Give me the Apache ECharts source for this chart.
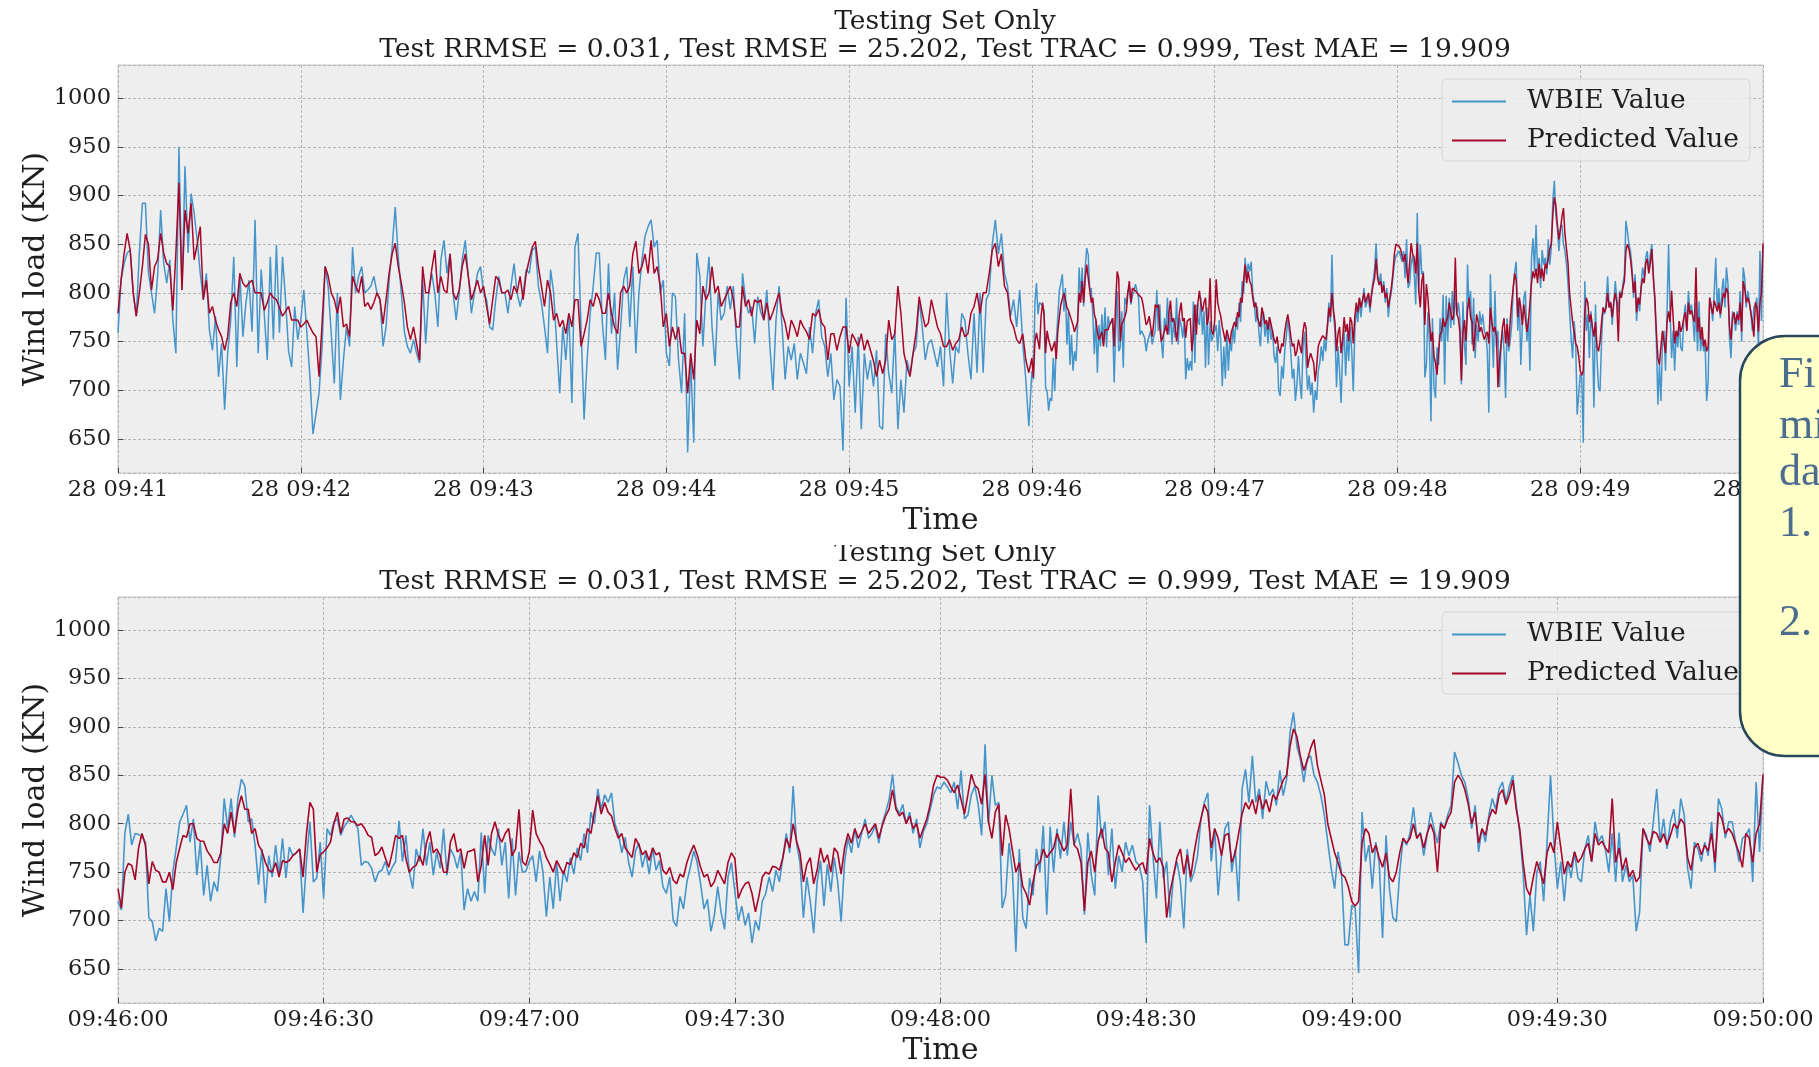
<!DOCTYPE html>
<html>
<head>
<meta charset="utf-8">
<title>Wind load – testing set</title>
<script src="https://cdn.jsdelivr.net/npm/echarts@6.0.0/dist/echarts.min.js"></script>
<style>
  html, body { margin: 0; padding: 0; background: #ffffff; }
  #chart { width: 1819px; height: 1067px; }
</style>
</head>
<body>
<div id="chart"></div>
<script>
// Sampling: 09:41:00–09:45:59 at 1 s, 09:46:00–09:50:00 at 0.5 s (seconds after 09:41:00)
const EARLY_START = 0, EARLY_STEP = 1;
const LATE_START = 300, LATE_STEP = 0.5;

const seriesNames = ['WBIE Value', 'Predicted Value'];

const titleLine1 = 'Testing Set Only';
const titleLine2 = 'Test RRMSE = 0.031, Test RMSE = 25.202, Test TRAC = 0.999, Test MAE = 19.909';

// WBIE wind load (KN), 09:41:00 – 09:45:59
const wbieEarly = [
  759, 813, 830, 841, 844, 800, 776, 840, 892, 892,
  820, 800, 779, 817, 885, 830, 810, 834, 772, 738,
  950, 803, 930, 841, 902, 882, 854, 820, 793, 820,
  762, 741, 776, 714, 748, 680, 738, 772, 837, 724,
  820, 755, 790, 813, 760, 875, 738, 824, 779, 731,
  837, 752, 849, 759, 837, 793, 740, 724, 786, 752,
  772, 803, 759, 714, 655, 676, 697, 745, 827, 806,
  758, 707, 800, 690, 731, 765, 745, 847, 800, 817,
  827, 800, 803, 807, 817, 800, 793, 745, 765, 813,
  847, 888, 837, 800, 760, 745, 738, 752, 738, 728,
  815, 748, 800, 820, 800, 765, 834, 854, 820, 840,
  800, 772, 800, 834, 854, 817, 779, 800, 820, 827,
  800, 793, 765, 762, 793, 817, 800, 800, 779, 807,
  830, 800, 786, 800, 824, 820, 844, 847, 807, 790,
  765, 738, 824, 800, 748, 697, 765, 731, 779, 687,
  847, 861, 765, 670, 731, 779, 807, 841, 841, 769,
  731, 830, 758, 800, 721, 765, 813, 827, 765, 827,
  738, 800, 834, 858, 868, 875, 847, 854, 800, 813,
  738, 725, 800, 796, 731, 697, 779, 636, 731, 646,
  841, 817, 745, 800, 837, 765, 725, 800, 772, 779,
  807, 783, 807, 752, 711, 820, 793, 779, 786, 748,
  796, 780, 772, 803, 745, 700, 772, 807, 765, 711,
  745, 731, 748, 711, 738, 728, 717, 765, 738, 779,
  793, 755, 745, 714, 738, 690, 711, 704, 638, 795,
  704, 745, 677, 755, 660, 738, 711, 731, 704, 741,
  663, 660, 758, 717, 697, 762, 660, 711, 677, 731,
  717, 738, 745, 793, 765, 731, 748, 752, 738, 724,
  745, 704, 800, 741, 707, 745, 738, 779, 772, 738,
  711, 779, 718, 800, 718, 793, 800, 850, 875, 840,
  861, 820, 807, 776, 793, 765, 803, 748, 711, 663
];

// Predicted wind load (KN), 09:41:00 – 09:45:59
const predEarly = [
  779, 813, 840, 861, 844, 800, 776, 800, 827, 860,
  850, 803, 827, 834, 861, 841, 830, 827, 782, 841,
  913, 803, 885, 861, 892, 834, 850, 868, 793, 813,
  779, 786, 772, 762, 755, 741, 755, 790, 800, 786,
  820, 810, 806, 810, 813, 800, 800, 800, 782, 790,
  800, 795, 793, 785, 776, 781, 786, 772, 772, 772,
  765, 768, 772, 765, 759, 755, 714, 769, 827, 817,
  800, 793, 779, 796, 765, 768, 755, 817, 807, 800,
  817, 786, 790, 783, 790, 800, 793, 768, 793, 820,
  840, 851, 827, 810, 790, 765, 752, 765, 748, 731,
  827, 800, 800, 824, 844, 800, 817, 803, 800, 840,
  800, 793, 803, 827, 840, 817, 793, 803, 813, 800,
  807, 786, 768, 793, 817, 813, 800, 800, 803, 793,
  807, 800, 817, 793, 820, 834, 847, 853, 827, 807,
  786, 813, 800, 772, 779, 765, 772, 758, 779, 765,
  793, 793, 745, 758, 772, 793, 786, 800, 793, 779,
  779, 800, 779, 765, 758, 800, 807, 800, 807, 840,
  853, 820, 827, 840, 820, 854, 820, 827, 807, 765,
  779, 745, 765, 752, 765, 738, 738, 697, 738, 711,
  772, 758, 807, 793, 800, 827, 800, 807, 786, 793,
  800, 807, 793, 765, 765, 807, 786, 793, 776, 793,
  790, 793, 772, 790, 772, 780, 790, 800, 779, 769,
  752, 772, 765, 755, 772, 765, 760, 752, 779, 776,
  783, 769, 765, 731, 758, 758, 741, 755, 765, 765,
  738, 758, 752, 745, 758, 741, 752, 741, 730, 714,
  731, 717, 731, 772, 752, 758, 807, 779, 738, 724,
  714, 738, 760, 796, 779, 765, 769, 793, 779, 765,
  758, 745, 745, 752, 741, 748, 752, 765, 755, 758,
  779, 786, 800, 779, 800, 800, 820, 844, 851, 827,
  840, 807, 800, 772, 765, 752, 748, 758, 731, 718
];

// WBIE wind load (KN), 09:46:00 – 09:50:00
const wbieLate = [
  720, 711, 790, 810, 778, 790, 789, 787, 781, 703,
  699, 679, 692, 689, 733, 699, 750, 775, 802, 810,
  819, 781, 805, 747, 781, 726, 757, 720, 740, 730,
  767, 826, 795, 826, 786, 826, 846, 839, 802, 805,
  778, 737, 774, 718, 767, 745, 778, 747, 785, 744,
  776, 767, 770, 774, 708, 761, 802, 740, 744, 781,
  723, 795, 788, 802, 805, 788, 797, 802, 809, 802,
  795, 757, 761, 760, 754, 740, 750, 752, 761, 747,
  755, 761, 803, 761, 788, 750, 733, 774, 761, 795,
  757, 781, 747, 771, 754, 795, 747, 774, 767, 754,
  771, 711, 733, 720, 730, 720, 791, 728, 788, 774,
  767, 795, 757, 781, 723, 785, 726, 771, 750, 751,
  761,
  767, 740, 772, 750, 704, 745, 712, 760, 720, 752,
  740, 765, 748, 775, 762, 790, 770, 812, 800, 836,
  815, 830, 822, 832, 800, 790, 770, 786, 760, 745,
  772, 780, 755, 770, 748, 775, 752, 762, 735, 728,
  745, 700, 694, 725, 712, 740, 755, 772, 760, 738,
  712, 722, 689, 705, 735, 708, 691, 745, 760, 730,
  700, 715, 695, 708, 677, 700, 690, 720, 728, 745,
  730, 752, 740, 765, 790, 770, 839, 780, 760, 703,
  745, 720, 687, 740, 762, 715, 758, 730, 765, 740,
  699, 760, 785, 770, 795, 775, 790, 805, 785, 790,
  798, 780, 800, 812, 825, 851, 818, 810, 820, 800,
  812, 790, 805, 775, 792, 800, 815, 830, 838, 836,
  843, 838, 832, 843, 815, 855, 805, 809, 830, 839,
  820, 788, 882, 800, 850, 819, 822, 713, 726, 780,
  750, 668, 774, 703, 692, 744, 726, 774, 750, 798,
  706, 797, 750, 795, 764, 802, 767, 802, 778, 790,
  774, 706, 791, 747, 726, 829, 785, 802, 747, 795,
  733, 767, 750, 781, 767, 778, 761, 757, 740, 677,
  819, 767, 723, 802, 744, 761, 703, 747, 761, 740,
  692, 774, 740, 750, 767, 805, 822, 832, 761, 795,
  726, 767, 795, 802, 750, 774, 720, 836, 856, 822,
  870, 822, 836, 805, 844, 829, 836, 819, 855, 829,
  846, 894, 915, 880, 867, 843, 867, 870, 850, 843,
  829, 809, 781, 754, 733, 771, 750, 675, 675, 716,
  713, 646, 812, 761,
  778, 733, 781, 760, 682, 788, 733, 703, 699, 750,
  785, 778, 790, 817, 785, 791, 767, 788, 812, 795,
  780, 802, 795, 809, 819, 874, 863, 850, 843, 826,
  795, 819, 771, 795, 781, 809, 826, 815, 836, 843,
  822, 839, 850, 819, 791, 750, 685, 726, 689, 750,
  761, 720, 781, 850, 781, 733, 761, 720, 761, 744,
  771, 744, 740, 774, 788, 761, 802, 781, 788, 774,
  750, 790, 740, 791, 740, 757, 740, 747, 689, 709,
  795, 788, 771, 802, 836, 781, 805, 774, 802, 815,
  785, 826, 809, 754, 733, 781, 774, 761, 781, 767,
  802, 750, 826, 815, 785, 802, 802, 781, 761, 785,
  788, 795, 740, 843, 771, 849
];

// Predicted wind load (KN), 09:46:00 – 09:50:00
const predLate = [
  733, 713, 750, 759, 757, 742, 775, 790, 778, 738,
  761, 752, 750, 740, 740, 750, 732, 760, 775, 788,
  786, 800, 800, 785, 782, 782, 772, 767, 760, 760,
  770, 800, 790, 812, 790, 815, 829, 815, 815, 790,
  795, 778, 772, 760, 752, 750, 760, 745, 762, 760,
  762, 767, 770, 774, 745, 790, 822, 815, 750, 768,
  771, 775, 781, 800, 812, 790, 805, 806, 802, 802,
  798, 800, 795, 788, 786, 767, 770, 776, 765, 755,
  770, 788, 785, 788, 764, 750, 755, 757, 767, 757,
  780, 792, 770, 774, 767, 750, 750, 781, 790, 771,
  774, 754, 771, 772, 774, 740, 757, 788, 757, 790,
  802, 788, 781, 790, 795, 767, 774, 815, 761, 757,
  771,
  814, 790, 782, 776, 765, 758, 750, 762, 755, 748,
  760, 758, 770, 765, 780, 775, 795, 790, 812, 829,
  810, 822, 812, 808, 795, 785, 790, 775, 770, 765,
  785, 778, 768, 772, 762, 775, 768, 770, 752, 748,
  755, 742, 738, 748, 745, 760, 770, 778, 768, 755,
  745, 748, 735, 740, 752, 745, 738, 760, 770, 764,
  723, 732, 738, 740, 728, 709, 725, 745, 750, 748,
  756, 755, 752, 765, 785, 775, 800, 782, 770, 740,
  758, 765, 738, 752, 775, 760, 768, 750, 775, 770,
  748, 775, 790, 780, 795, 785, 792, 800, 790, 795,
  800, 785, 798, 808, 815, 835, 815, 808, 812, 800,
  808, 795, 800, 785, 795, 805, 820, 840, 850, 848,
  848, 845, 838, 832, 840, 825, 810, 830, 851, 840,
  836, 820, 851, 802, 785, 812, 820, 767, 809, 795,
  772, 750, 760, 735, 728, 716, 740, 757, 760, 774,
  765, 770, 775, 790, 780, 772, 778, 836, 778, 774,
  760, 710, 760, 772, 750, 782, 795, 775, 770, 740,
  760, 778, 770, 760, 765, 758, 752, 757, 760, 748,
  785, 770, 760, 765, 755, 703, 730, 747, 765, 774,
  748, 768, 745, 770, 790, 805, 820, 812, 775, 795,
  785, 767, 788, 790, 760, 770, 790, 810, 822, 815,
  825, 810, 830, 815, 825, 812, 830, 825, 835, 845,
  850, 880, 898, 890, 870, 855, 865, 878, 887, 860,
  845, 830, 800, 785, 770, 760, 748, 745, 735, 720,
  715, 720, 780, 795,
  790, 770, 778, 765, 755, 770, 745, 740, 750, 770,
  785, 780, 785, 800, 785, 790, 775, 790, 800, 790,
  750, 800, 795, 805, 812, 843, 850, 845, 835, 820,
  800, 812, 780, 795, 788, 805, 815, 810, 830, 835,
  820, 830, 845, 815, 795, 760, 733, 726, 745, 761,
  750, 738, 770, 781, 770, 802, 775, 748, 761, 755,
  771, 760, 765, 774, 780, 761, 790, 778, 782, 775,
  770, 826, 760, 775, 752, 765, 745, 752, 740, 745,
  795, 785, 778, 792, 790, 781, 790, 778, 788, 800,
  795, 805, 800, 765, 752, 775, 780, 768, 778, 772,
  790, 760, 812, 805, 790, 795, 790, 780, 770, 755,
  790, 785, 760, 790, 800, 851
];

// Side note box text (visible part)
const noteLines = ['Fi', 'mi', 'da', '1.', '2.'];

const FONT = '"DejaVu Serif", serif';
const BLUE = '#4595cb';
const RED = '#a60628';
const DAY_OFFSET = 9 * 3600 + 41 * 60; // 09:41:00

function pad2(n) { return (n < 10 ? '0' : '') + n; }
function clock(sec, withSeconds) {
  const t = Math.round(DAY_OFFSET + sec);
  const h = Math.floor(t / 3600), m = Math.floor((t % 3600) / 60), s = t % 60;
  return pad2(h) + ':' + pad2(m) + (withSeconds ? ':' + pad2(s) : '');
}

const pairs = (arr, start, step) => arr.map((v, i) => [start + i * step, v]);
const wbieAll = pairs(wbieEarly, EARLY_START, EARLY_STEP).concat(pairs(wbieLate, LATE_START, LATE_STEP));
const predAll = pairs(predEarly, EARLY_START, EARLY_STEP).concat(pairs(predLate, LATE_START, LATE_STEP));
const wbieZoom = pairs(wbieLate, LATE_START, LATE_STEP);
const predZoom = pairs(predLate, LATE_START, LATE_STEP);

const gridLine = { show: true, lineStyle: { color: '#b4b4b4', width: 1, type: [3, 2] } };
const tickStyle = { show: true, inside: true, length: 5, lineStyle: { color: '#444', width: 1 } };
const labelBase = { fontFamily: FONT, fontSize: 22.5, color: '#1e1e1e' };
const nameStyle = { fontFamily: FONT, fontSize: 30, color: '#1e1e1e' };

function xAxisFor(gridIndex, min, max, interval, fmt) {
  return {
    type: 'value', gridIndex, min, max, interval,
    axisLine: { show: false },
    axisTick: tickStyle,
    splitLine: gridLine,
    axisLabel: Object.assign({ margin: 6, showMaxLabel: true, showMinLabel: true, formatter: fmt }, labelBase),
    name: 'Time', nameLocation: 'middle', nameGap: 33,
    nameTextStyle: nameStyle
  };
}
function yAxisFor(gridIndex) {
  return {
    type: 'value', gridIndex, min: 615, max: 1034, splitNumber: 8,
    axisLine: { show: false },
    axisTick: tickStyle,
    splitLine: gridLine,
    axisLabel: Object.assign({ margin: 7, showMinLabel: false, showMaxLabel: false, formatter: v => String(v) }, labelBase),
    name: 'Wind load (KN)', nameLocation: 'middle', nameGap: 67, nameRotate: 90,
    nameMoveOverlap: false,
    nameTextStyle: nameStyle
  };
}
function legendAt(top) {
  return {
    left: 1442, top, orient: 'vertical', data: seriesNames,
    icon: 'rect', itemWidth: 54, itemHeight: 2, itemGap: 12,
    padding: [9, 11, 7, 10],
    backgroundColor: 'rgba(236,236,236,0.85)', borderColor: '#d6d6d6', borderWidth: 1, borderRadius: 5,
    textStyle: { fontFamily: FONT, fontSize: 26.5, color: '#1e1e1e', padding: [0, 0, 0, 16] },
    selectedMode: false
  };
}
function lineSeries(name, data, color, xi, width, z) {
  return {
    type: 'line', name, data, xAxisIndex: xi, yAxisIndex: xi,
    showSymbol: false, symbol: 'none', animation: false, z,
    lineStyle: { color, width }, itemStyle: { color }
  };
}
function title(text, top, size) {
  return { text, left: 940, top, textAlign: 'center',
    textStyle: { fontFamily: FONT, fontSize: size, fontWeight: 'normal', color: '#1e1e1e' } };
}

const chart = echarts.init(document.getElementById('chart'), null, { renderer: 'canvas' });
chart.setOption({
  backgroundColor: '#ffffff',
  animation: false,
  title: [
    title(titleLine1, 4, 26.5), title(titleLine2, 32, 26.5),
    title(titleLine1, 536, 26.5), title(titleLine2, 564, 26.5)
  ],
  grid: [
    { left: 118, top: 65, width: 1645, height: 408, show: true, backgroundColor: '#eeeeee', borderColor: '#c6c6c6', borderWidth: 1 },
    { left: 118, top: 597, width: 1645, height: 409, show: true, backgroundColor: '#eeeeee', borderColor: '#c6c6c6', borderWidth: 1 }
  ],
  xAxis: [
    xAxisFor(0, 0, 540, 60, v => '28 ' + clock(v, false)),
    xAxisFor(1, 300, 540, 30, v => clock(v, true))
  ],
  yAxis: [yAxisFor(0), yAxisFor(1)],
  legend: [legendAt(79), legendAt(612)],
  series: [
    lineSeries(seriesNames[0], wbieAll, BLUE, 0, 1.5, 2),
    lineSeries(seriesNames[1], predAll, RED, 0, 1.5, 3),
    lineSeries(seriesNames[0], wbieZoom, BLUE, 1, 1.6, 2),
    lineSeries(seriesNames[1], predZoom, RED, 1, 1.6, 3)
  ],
  graphic: [
    // upper panel's margin overlapping the lower panel's first title line
    { type: 'rect', z: 100, shape: { x: 780, y: 531, width: 320, height: 14 }, style: { fill: '#ffffff' } },
    // side note callout
    { type: 'rect', z: 110, shape: { x: 1740, y: 336, width: 200, height: 420, r: 45 },
      style: { fill: '#ffffc8', stroke: '#29475a', lineWidth: 2.5 } },
    ...noteLines.map((t, i) => ({
      type: 'text', z: 111, x: 1779, y: [375, 426, 473, 524, 623][i],
      style: { text: t, font: '44px "Liberation Serif", serif', fill: '#4b6c8f', verticalAlign: 'middle', align: 'left' }
    }))
  ]
});
</script>
</body>
</html>
